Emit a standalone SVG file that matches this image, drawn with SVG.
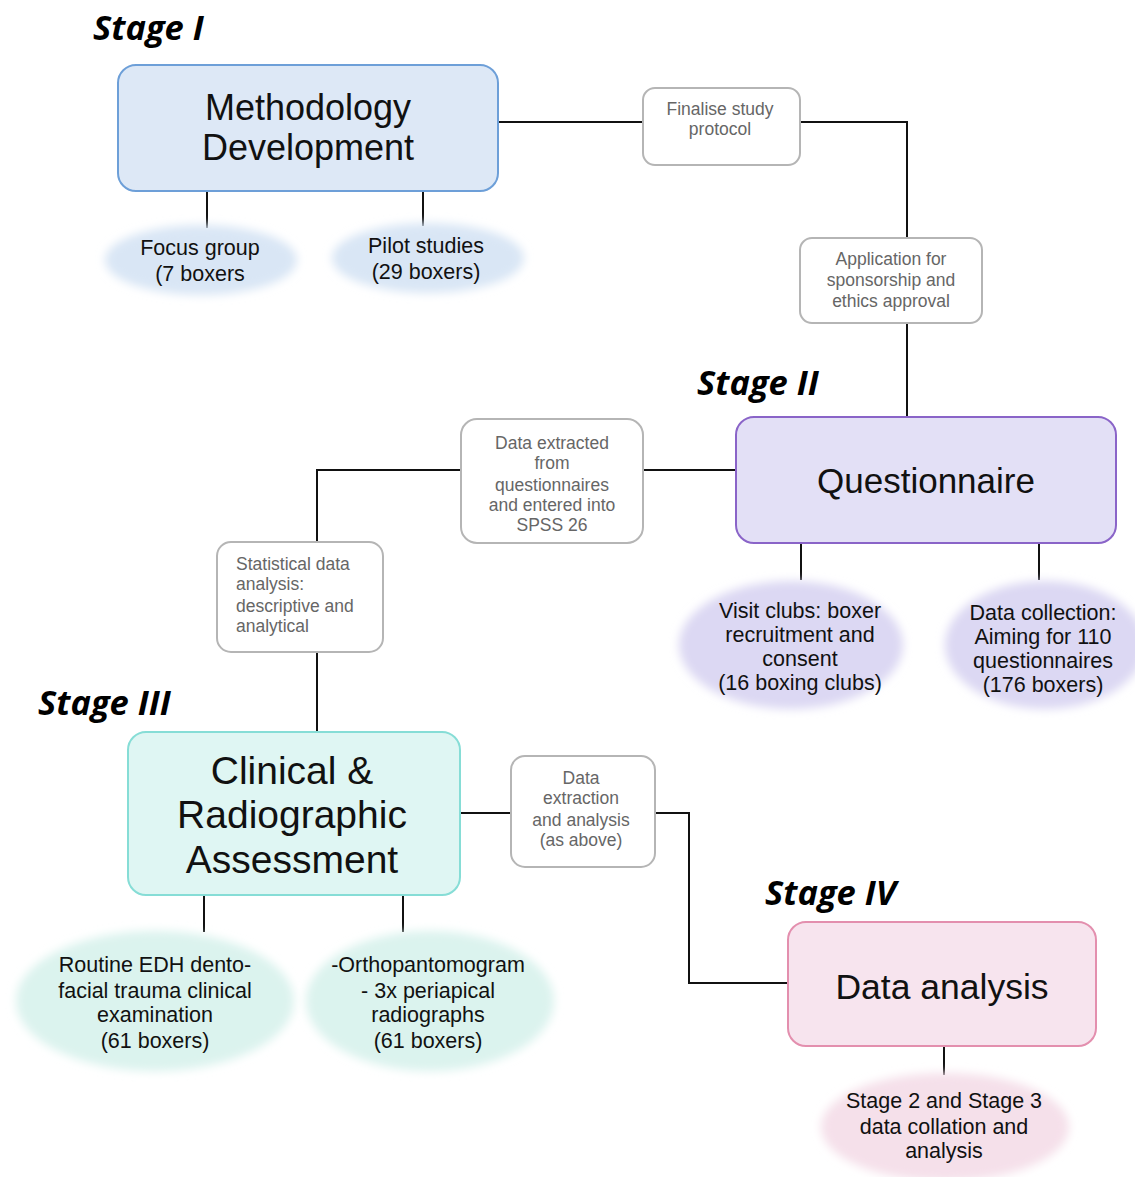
<svg xmlns="http://www.w3.org/2000/svg" width="1135" height="1177" viewBox="0 0 1135 1177">
<defs>
<filter id="blur" x="-20%" y="-20%" width="140%" height="140%"><feGaussianBlur stdDeviation="5"/></filter>
<style>
.stage{font-family:"Open Sans","Liberation Sans",sans-serif;font-weight:bold;font-style:italic;font-size:34.5px;fill:#000}
.big{font-family:"Liberation Sans",Arial,sans-serif;font-size:36px;fill:#111;text-anchor:middle}
.sm{font-family:"Liberation Sans",Arial,sans-serif;font-size:17.5px;fill:#666;text-anchor:middle}
.el{font-family:"Liberation Sans",Arial,sans-serif;font-size:21.5px;fill:#111;text-anchor:middle}
.box{fill:#fff;stroke:#b5b5b5;stroke-width:2}
.conn{fill:none;stroke:#111;stroke-width:2}
</style>
</defs>
<rect width="1135" height="1177" fill="#fff"/>

<g id="connectors">
<path class="conn" d="M498 122H643M800 122H907V238M907 323V417"/>
<path class="conn" d="M207 191V228M423 191V226"/>
<path class="conn" d="M736 470H643M461 470H317V542M317 652V732"/>
<path class="conn" d="M801 543V580M1039 543V580"/>
<path class="conn" d="M460 813H511M655 813H689V983H788"/>
<path class="conn" d="M204 895V932M403 895V932"/>
<path class="conn" d="M944 1046V1075"/>
</g>

<text class="stage" x="93" y="40">Stage I</text>
<text class="stage" x="697" y="395">Stage II</text>
<text class="stage" x="38" y="715">Stage III</text>
<text class="stage" x="765" y="905">Stage IV</text>

<g id="methodology">
<rect x="118" y="65" width="380" height="126" rx="18" fill="#dde8f6" stroke="#6d9fd8" stroke-width="2"/>
<text class="big" x="308" y="120">Methodology</text>
<text class="big" x="308" y="160">Development</text>
</g>
<g id="focus">
<ellipse cx="201" cy="260" rx="96" ry="35" fill="#d9e6f5" filter="url(#blur)"/>
<text class="el" x="200" y="255">Focus group</text>
<text class="el" x="200" y="281">(7 boxers</text>
</g>
<g id="pilot">
<ellipse cx="428" cy="258" rx="96" ry="35" fill="#d9e6f5" filter="url(#blur)"/>
<text class="el" x="426" y="253">Pilot studies</text>
<text class="el" x="426" y="279">(29 boxers)</text>
</g>
<g id="finalise">
<rect class="box" x="643" y="88" width="157" height="77" rx="12"/>
<text class="sm" x="720" y="115">Finalise study</text>
<text class="sm" x="720" y="135">protocol</text>
</g>
<g id="application">
<rect class="box" x="800" y="238" width="182" height="85" rx="12"/>
<text class="sm" x="891" y="265">Application for</text>
<text class="sm" x="891" y="286">sponsorship and</text>
<text class="sm" x="891" y="307">ethics approval</text>
</g>
<g id="questionnaire">
<rect x="736" y="417" width="380" height="126" rx="18" fill="#e3e0f6" stroke="#8a64c8" stroke-width="2"/>
<text class="big" x="926" y="493" style="font-size:35px">Questionnaire</text>
</g>
<g id="visit">
<ellipse cx="791" cy="645" rx="112" ry="64" fill="#dcd8f3" filter="url(#blur)"/>
<text class="el" x="800" y="618">Visit clubs: boxer</text>
<text class="el" x="800" y="642">recruitment and</text>
<text class="el" x="800" y="666">consent</text>
<text class="el" x="800" y="690">(16 boxing clubs)</text>
</g>
<g id="collection">
<ellipse cx="1045" cy="645" rx="100" ry="64" fill="#dcd8f3" filter="url(#blur)"/>
<text class="el" x="1043" y="620">Data collection:</text>
<text class="el" x="1043" y="644">Aiming for 110</text>
<text class="el" x="1043" y="668">questionnaires</text>
<text class="el" x="1043" y="692">(176 boxers)</text>
</g>
<g id="extracted">
<rect class="box" x="461" y="419" width="182" height="124" rx="16"/>
<text class="sm" x="552" y="449">Data extracted</text>
<text class="sm" x="552" y="469">from</text>
<text class="sm" x="552" y="491">questionnaires</text>
<text class="sm" x="552" y="511">and entered into</text>
<text class="sm" x="552" y="531">SPSS 26</text>
</g>
<g id="statistical">
<rect class="box" x="217" y="542" width="166" height="110" rx="14"/>
<text class="sm" x="236" y="570" style="text-anchor:start">Statistical data</text>
<text class="sm" x="236" y="590" style="text-anchor:start">analysis:</text>
<text class="sm" x="236" y="612" style="text-anchor:start">descriptive and</text>
<text class="sm" x="236" y="632" style="text-anchor:start">analytical</text>
</g>
<g id="clinical">
<rect x="128" y="732" width="332" height="163" rx="18" fill="#dff6f3" stroke="#86ddd6" stroke-width="2"/>
<text class="big" x="292" y="784" style="font-size:39px">Clinical &amp;</text>
<text class="big" x="292" y="828" style="font-size:39px">Radiographic</text>
<text class="big" x="292" y="873" style="font-size:39px">Assessment</text>
</g>
<g id="routine">
<ellipse cx="155" cy="1001" rx="139" ry="70" fill="#dbf3ee" filter="url(#blur)"/>
<text class="el" x="155" y="972">Routine EDH dento-</text>
<text class="el" x="155" y="998">facial trauma clinical</text>
<text class="el" x="155" y="1022">examination</text>
<text class="el" x="155" y="1048">(61 boxers)</text>
</g>
<g id="ortho">
<ellipse cx="430" cy="1001" rx="124" ry="70" fill="#dbf3ee" filter="url(#blur)"/>
<text class="el" x="428" y="972">-Orthopantomogram</text>
<text class="el" x="428" y="998">- 3x periapical</text>
<text class="el" x="428" y="1022">radiographs</text>
<text class="el" x="428" y="1048">(61 boxers)</text>
</g>
<g id="extraction">
<rect class="box" x="511" y="756" width="144" height="111" rx="14"/>
<text class="sm" x="581" y="784">Data</text>
<text class="sm" x="581" y="804">extraction</text>
<text class="sm" x="581" y="826">and analysis</text>
<text class="sm" x="581" y="846">(as above)</text>
</g>
<g id="analysis">
<rect x="788" y="922" width="308" height="124" rx="18" fill="#f7e4ee" stroke="#e38fae" stroke-width="2"/>
<text class="big" x="942" y="999" style="font-size:35.5px">Data analysis</text>
</g>
<g id="collation">
<ellipse cx="945" cy="1127" rx="124" ry="54" fill="#f5e0ea" filter="url(#blur)"/>
<text class="el" x="944" y="1108">Stage 2 and Stage 3</text>
<text class="el" x="944" y="1134">data collation and</text>
<text class="el" x="944" y="1158">analysis</text>
</g>
</svg>
